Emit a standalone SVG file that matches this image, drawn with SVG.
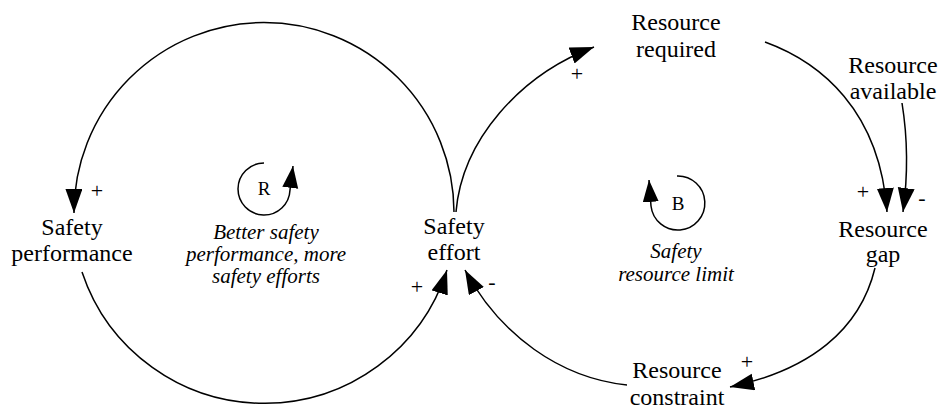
<svg xmlns="http://www.w3.org/2000/svg" width="942" height="416" viewBox="0 0 942 416">
  <style>
    text { font-family: 'Liberation Serif', 'Times New Roman', serif; fill: #000; text-anchor: middle; }
    .lbl { font-size: 24px; }
    .loop { font-size: 21px; font-style: italic; }
    .sign { font-size: 22px; }
    .mark { font-size: 19px; }
    .link { fill: none; stroke: #000; stroke-width: 1.5; marker-end: url(#arrow); }
    .ring { fill: none; stroke: #000; stroke-width: 1.5; }
  </style>
  <defs>
    <marker id="arrow" markerUnits="userSpaceOnUse" markerWidth="26" markerHeight="18" refX="24" refY="8.5" orient="auto">
      <path d="M0,0 L24,8.5 L0,17 Z" fill="#000"/>
    </marker>
    <marker id="arrowSmall" markerUnits="userSpaceOnUse" markerWidth="24" markerHeight="17" refX="22" refY="8" orient="auto">
      <path d="M0,0 L22,8 L0,16 Z" fill="#000"/>
    </marker>
  </defs>
  <rect width="942" height="416" fill="#fff"/>

  <!-- causal links -->
  <g id="connectors">
    <path class="link" d="M 454 212 A 190 190 0 0 0 74 213"/>
    <path class="link" d="M 82 272 A 192 192 0 0 0 447 270"/>
    <path class="link" d="M 456 212 C 462 140, 520 75, 594 47"/>
    <path class="link" d="M 765 42 C 820 62, 880 110, 887 212"/>
    <path class="link" d="M 902 103 C 908 140, 908 175, 903 212"/>
    <path class="link" d="M 875 268 C 860 330, 810 370, 730 387"/>
    <path class="link" d="M 627 385 C 560 378, 500 335, 465 270"/>

    <!-- polarity signs -->
    <text class="sign" x="97" y="198">+</text>
    <text class="sign" x="577" y="81">+</text>
    <text class="sign" x="863" y="199">+</text>
    <text class="sign" x="922" y="205">-</text>
    <text class="sign" x="417" y="294">+</text>
    <text class="sign" x="492" y="289">-</text>
    <text class="sign" x="747" y="369">+</text>
  </g>

  <!-- variables -->
  <g id="safety-performance">
    <text class="lbl" x="72" y="235">Safety</text>
    <text class="lbl" x="72" y="261">performance</text>
  </g>
  <g id="safety-effort">
    <text class="lbl" x="454" y="234">Safety</text>
    <text class="lbl" x="454" y="260">effort</text>
  </g>
  <g id="resource-required">
    <text class="lbl" x="676" y="30">Resource</text>
    <text class="lbl" x="676" y="57">required</text>
  </g>
  <g id="resource-available">
    <text class="lbl" x="893" y="73">Resource</text>
    <text class="lbl" x="893" y="99">available</text>
  </g>
  <g id="resource-gap">
    <text class="lbl" x="883" y="237">Resource</text>
    <text class="lbl" x="883" y="262">gap</text>
  </g>
  <g id="resource-constraint">
    <text class="lbl" x="677" y="378">Resource</text>
    <text class="lbl" x="677" y="405">constraint</text>
  </g>

  <!-- reinforcing loop marker -->
  <g id="loop-r">
    <path class="ring" d="M 264 163 A 26 26 0 1 0 290 190 L 293 166" marker-end="url(#arrowSmall)"/>
    <text class="mark" x="264" y="195">R</text>
    <text class="loop" x="266" y="239">Better safety</text>
    <text class="loop" x="266" y="261">performance, more</text>
    <text class="loop" x="266" y="283">safety efforts</text>
  </g>

  <!-- balancing loop marker -->
  <g id="loop-b">
    <path class="ring" d="M 677 176 A 27 27 0 1 1 651 206 L 649 180" marker-end="url(#arrowSmall)"/>
    <text class="mark" x="678" y="210">B</text>
    <text class="loop" x="676" y="258">Safety</text>
    <text class="loop" x="676" y="281">resource limit</text>
  </g>
</svg>
